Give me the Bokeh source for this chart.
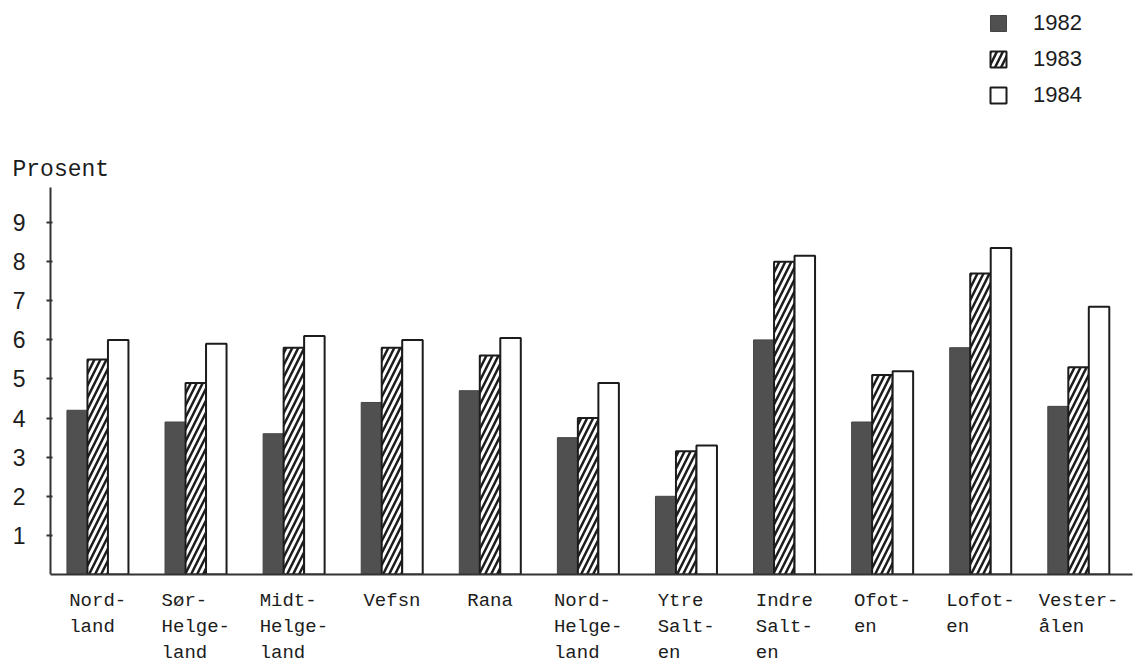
import numpy as np
from bokeh.plotting import figure
from bokeh.models import ColumnDataSource, Range1d, FixedTicker, Legend, LegendItem, Label
from bokeh.transform import dodge
from bokeh.embed import file_html
from bokeh.resources import INLINE

categories = ["Nord-\nland", "Sør-\nHelge-\nland", "Midt-\nHelge-\nland", "Vefsn", "Rana",
              "Nord-\nHelge-\nland", "Ytre\nSalt-\nen", "Indre\nSalt-\nen", "Ofot-\nen",
              "Lofot-\nen", "Vester-\nålen"]
years = ["1982", "1983", "1984"]
v1982 = [4.2, 3.9, 3.6, 4.4, 4.7, 3.5, 2.0, 6.0, 3.9, 5.8, 4.3]
v1983 = [5.5, 4.9, 5.8, 5.8, 5.6, 4.0, 3.15, 8.0, 5.1, 7.7, 5.3]
v1984 = [6.0, 5.9, 6.1, 6.0, 6.05, 4.9, 3.3, 8.15, 5.2, 8.35, 6.85]
y_ticks = [1, 2, 3, 4, 5, 6, 7, 8, 9]
y_label = "Prosent"

INK = "#1c1c1c"
DARK = "#505050"


def pad(label):
    lines = label.split("\n")
    w = max(len(s) for s in lines)
    return "\n".join(s + "\u00a0" * (w - len(s)) for s in lines)


xs = list(range(len(categories)))
src = ColumnDataSource(dict(x=xs, v1982=v1982, v1983=v1983, v1984=v1984))

X0, X1 = -0.991, 10.55
AXIS_X = -0.481
p = figure(width=1142, height=667, output_backend="svg", toolbar_location=None,
           title_location=None,
           x_range=Range1d(X0, X1), y_range=Range1d(0, 14.68),
           min_border_left=0, min_border_right=10, min_border_top=0, min_border_bottom=93)
p.outline_line_color = None
p.xgrid.grid_line_color = None
p.ygrid.grid_line_color = None
p.background_fill_color = "white"
p.border_fill_color = "white"

bw = 0.209
r1 = p.vbar(x=dodge("x", -bw, range=p.x_range), top="v1982", width=bw, source=src,
            fill_color=DARK, line_color="#444444", line_width=1)
r2 = p.vbar(x=dodge("x", 0, range=p.x_range), top="v1983", width=bw, source=src,
            fill_color="white", line_color=INK, line_width=2,
            hatch_pattern="/", hatch_color=INK, hatch_weight=2.5, hatch_scale=12)
r3 = p.vbar(x=dodge("x", bw, range=p.x_range), top="v1984", width=bw, source=src,
            fill_color="white", line_color=INK, line_width=2)

# y axis, drawn inside the frame so that the "Prosent" caption can sit left of it
ya = p.yaxis[0]
ya.fixed_location = AXIS_X
ya.ticker = FixedTicker(ticks=y_ticks)
ya.bounds = (0, 9.9)
ya.axis_line_width = 2
ya.axis_line_color = "#333333"
ya.major_tick_line_width = 2
ya.major_tick_line_color = "#333333"
ya.major_tick_out = 4
ya.major_tick_in = 2
ya.minor_tick_line_color = None
ya.major_label_standoff = 21
ya.major_label_text_font = "Liberation Sans"
ya.major_label_text_font_size = "23px"
ya.major_label_text_color = INK

# x axis
xa = p.xaxis[0]
xa.ticker = FixedTicker(ticks=xs)
xa.bounds = (AXIS_X, X1)
xa.major_label_overrides = {i: pad(c) for i, c in zip(xs, categories)}
xa.axis_line_width = 2
xa.axis_line_color = "#333333"
xa.major_tick_line_color = None
xa.minor_tick_line_color = None
xa.major_tick_out = 0
xa.major_tick_in = 0
xa.major_label_standoff = 15
xa.major_label_text_font = "Liberation Mono"
xa.major_label_text_font_size = "19px"
xa.major_label_text_line_height = 1.2
xa.major_label_text_color = INK

p.add_layout(Label(x=12, y=405, x_units="screen", y_units="screen", text=y_label,
                   text_font="Liberation Mono", text_font_size="23px", text_color=INK,
                   text_baseline="middle"))

legend = Legend(items=[LegendItem(label=years[0], renderers=[r1]),
                       LegendItem(label=years[1], renderers=[r2]),
                       LegendItem(label=years[2], renderers=[r3])],
                location=(988, 466), orientation="vertical",
                glyph_width=20, glyph_height=20, label_standoff=25, spacing=10,
                padding=0, margin=0, border_line_alpha=0, background_fill_alpha=0,
                label_text_font="Liberation Sans", label_text_font_size="22px",
                label_text_color=INK)
p.add_layout(legend)

open("out.html", "w").write(file_html(p, INLINE))
